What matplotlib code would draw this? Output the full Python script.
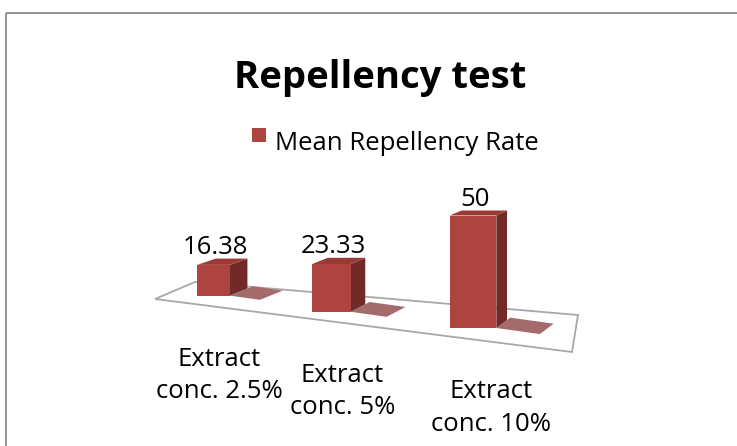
import numpy as np
import matplotlib.pyplot as plt
from matplotlib.patches import Polygon, Rectangle

plt.rcParams['font.family'] = ['Open Sans', 'DejaVu Sans']

# data
categories = ['Extract\nconc. 2.5%', 'Extract\nconc. 5%', 'Extract\nconc. 10%']
values = [16.38, 23.33, 50]
value_labels = ['16.38', '23.33', '50']
series_name = 'Mean Repellency Rate'
title = 'Repellency test'

# colours
front_col = '#AE4440'
side_col = '#722A28'
top_col = '#9A3A37'
shadow_col = '#A46B6B'
floor_col = '#A8A8A8'

# fake 3d scene, drawn in pixel coordinates of the canvas
W, H = 737, 446
row_x0, row_gain, row_c = 161.4, 99.6, 0.08   # perspective along the category row
row_y0, row_slope = 287.5, 16.2
px_per_unit = 1.8
bar_w = 0.30
vp = np.array([899.0, 27.0])                    # vanishing point for bar depth
depth_k = 0.0265
floor_corners = [(155, 299), (572, 352), (578, 315), (195, 282)]


def row_x(X):
    return row_x0 + row_gain * X / (1 - row_c * X)


def row_scale(X):
    return 1 / (1 - row_c * X)


def back(p, k=depth_k):
    p = np.asarray(p, dtype=float)
    return p + k * (vp - p)


fig = plt.figure(figsize=(W / 100, H / 100), dpi=100)
ax = fig.add_axes([0, 0, 1, 1])
ax.set_xlim(0, W)
ax.set_ylim(H, 0)
ax.axis('off')

# chart frame
ax.add_patch(Rectangle((6, 13), 800, 500, fill=False, edgecolor='#8A8A8A', lw=1.3))

# floor
ax.add_patch(Polygon(floor_corners, closed=True, facecolor='white',
                     edgecolor=floor_col, lw=1.3, zorder=1))

for i, v in enumerate(values):
    xc = i + 0.5
    xl = row_x(xc - bar_w / 2)
    xr = row_x(xc + bar_w / 2)
    yb = row_y0 + row_slope * xc
    yt = yb - v * px_per_unit * row_scale(xc)
    w = xr - xl

    b0 = np.array([xr, yb])
    b1 = back(b0)
    s1 = back(b0, 1.3 * depth_k)
    ext = np.array([0.93 * w, 0.13 * w])
    ax.add_patch(Polygon([b0, s1, s1 + ext, b0 + ext], closed=True,
                         facecolor=shadow_col, edgecolor='none', zorder=2))

    tl, tr = np.array([xl, yt]), np.array([xr, yt])
    ax.add_patch(Polygon([b0, tr, back(tr), b1], closed=True,
                         facecolor=side_col, edgecolor='none', zorder=3))
    ax.add_patch(Polygon([tl, tr, back(tr), back(tl)], closed=True,
                         facecolor=top_col, edgecolor='none', zorder=3))
    ax.add_patch(Polygon([(xl, yb), b0, tr, tl], closed=True,
                         facecolor=front_col, edgecolor='none', zorder=4))

    ax.text((xl + xr) / 2 + 2, back(tl)[1] - 4.5, value_labels[i],
            ha='center', va='baseline', fontsize=18.5, color='black', zorder=5)

    ax.text(row_x(xc + 0.04 + 0.03 * xc), yb + 51, categories[i],
            ha='center', va='top', multialignment='center', fontsize=18.5,
            color='black', linespacing=1.4)

# title and legend
ax.text(380, 88, title, ha='center', va='baseline', fontsize=27.5,
        fontweight='bold', color='black')
ax.add_patch(Rectangle((252, 128), 14, 14, facecolor=front_col, edgecolor='none'))
ax.text(275, 150, series_name, ha='left', va='baseline', fontsize=18.5, color='black')

fig.savefig('out.png', dpi=100)
